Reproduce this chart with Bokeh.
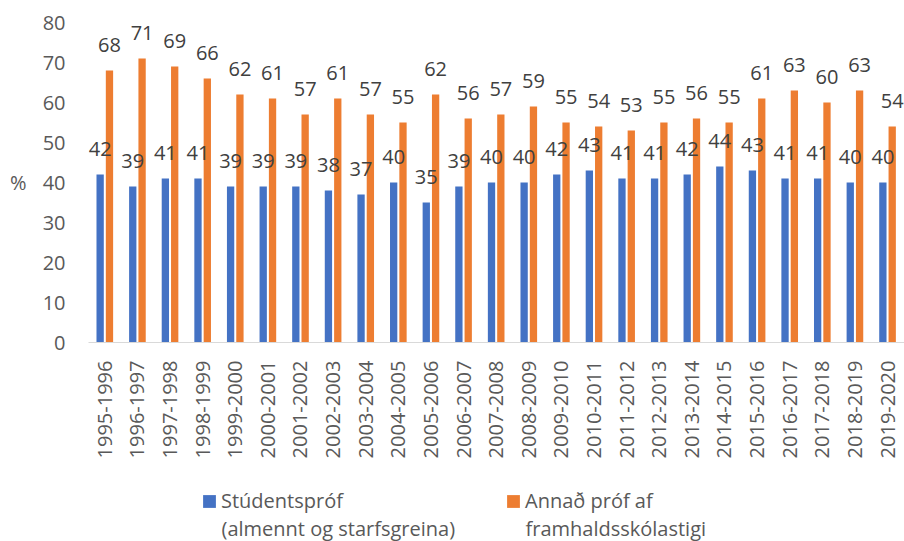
import math
from bokeh.plotting import figure
from bokeh.layouts import column
from bokeh.models import (Range1d, FixedTicker, Legend, LegendItem,
                          ColumnDataSource, Label)
from bokeh.transform import dodge
from bokeh.embed import file_html
from bokeh.resources import INLINE
from bokeh.core.properties import value

categories = ["1995-1996", "1996-1997", "1997-1998", "1998-1999", "1999-2000",
              "2000-2001", "2001-2002", "2002-2003", "2003-2004", "2004-2005",
              "2005-2006", "2006-2007", "2007-2008", "2008-2009", "2009-2010",
              "2010-2011", "2011-2012", "2012-2013", "2013-2014", "2014-2015",
              "2015-2016", "2016-2017", "2017-2018", "2018-2019", "2019-2020"]
studentsprof = [42, 39, 41, 41, 39, 39, 39, 38, 37, 40, 35, 39, 40, 40, 42,
                43, 41, 41, 42, 44, 43, 41, 41, 40, 40]
annad_prof = [68, 71, 69, 66, 62, 61, 57, 61, 57, 55, 62, 56, 57, 59, 55,
              54, 53, 55, 56, 55, 61, 63, 60, 63, 54]
y_ticks = [0, 10, 20, 30, 40, 50, 60, 70, 80]
series_line1 = ["Stúdentspróf", "Annað próf af"]
series_line2 = ["(almennt og starfsgreina)", "framhaldsskólastigi"]

BLUE = "#4472C4"
ORANGE = "#ED7D31"
FONT = "Open Sans"
FS = "20px"
GREY = "#595959"

idx = list(range(len(categories)))
src = ColumnDataSource(dict(
    x=idx, a=studentsprof, b=annad_prof,
    la=[str(v) for v in studentsprof], lb=[str(v) for v in annad_prof]))

p = figure(frame_width=816, frame_height=320, output_backend="svg",
           toolbar_location=None,
           x_range=Range1d(-0.50, 24.52), y_range=Range1d(0, 80),
           min_border_left=88, min_border_right=0, min_border_top=22,
           min_border_bottom=128)
p.outline_line_color = None
p.background_fill_color = "white"
p.border_fill_color = "white"
p.xgrid.visible = False
p.ygrid.visible = False

off = 0.143
bw = 0.224
r1 = p.vbar(x=dodge("x", -off, range=p.x_range), top="a", width=bw, source=src,
            fill_color=BLUE, line_color=None)
r2 = p.vbar(x=dodge("x", off, range=p.x_range), top="b", width=bw, source=src,
            fill_color=ORANGE, line_color=None)

for col, lab, o in (("a", "la", -off), ("b", "lb", off)):
    p.text(x=dodge("x", o, range=p.x_range), y=col, text=lab, source=src,
           text_align="center", text_baseline="middle", y_offset=-26,
           text_font=value(FONT), text_font_size=FS, text_color="#404040")

# axes
p.xaxis.ticker = FixedTicker(ticks=idx)
p.xaxis.major_label_overrides = {i: c for i, c in zip(idx, categories)}
p.xaxis.major_label_orientation = math.pi / 2
p.xaxis.major_tick_in = 0
p.xaxis.major_tick_out = 0
p.xaxis.minor_tick_in = 0
p.xaxis.minor_tick_out = 0
p.xaxis.axis_line_color = "#D9D9D9"
p.xaxis.major_label_standoff = 18
p.xaxis.major_label_text_font = FONT
p.xaxis.major_label_text_font_size = FS
p.xaxis.major_label_text_color = GREY

p.yaxis.ticker = FixedTicker(ticks=y_ticks)
p.yaxis.axis_line_color = None
p.yaxis.major_tick_in = 0
p.yaxis.major_tick_out = 0
p.yaxis.minor_tick_in = 0
p.yaxis.minor_tick_out = 0
p.yaxis.major_label_standoff = 23
p.yaxis.major_label_text_font = FONT
p.yaxis.major_label_text_font_size = FS
p.yaxis.major_label_text_color = GREY
p.yaxis.axis_label = "%"
p.yaxis.axis_label_orientation = "horizontal"
p.yaxis.axis_label_standoff = 13
p.yaxis.axis_label_text_font = FONT
p.yaxis.axis_label_text_font_size = FS
p.yaxis.axis_label_text_font_style = "normal"
p.yaxis.axis_label_text_color = GREY

# legend strip below the chart (its frame is aligned with the chart frame)
leg = figure(width=904, height=71, output_backend="svg", toolbar_location=None,
             x_axis_type=None, y_axis_type=None, min_border=0,
             x_range=Range1d(0, 1), y_range=Range1d(0, 1))
leg.outline_line_color = None
leg.xgrid.visible = False
leg.ygrid.visible = False
d1 = leg.vbar(x="x", top="a", width=bw, source=src, fill_color=BLUE,
              line_color=None, visible=False)
d2 = leg.vbar(x="x", top="b", width=bw, source=src, fill_color=ORANGE,
              line_color=None, visible=False)

legend_x = [113, 417]
for r, l1, l2, lx in zip((d1, d2), series_line1, series_line2, legend_x):
    lg = Legend(items=[LegendItem(label=l1, renderers=[r])],
                location=(lx, 27), orientation="horizontal",
                border_line_color=None, background_fill_alpha=0,
                label_text_font=FONT, label_text_font_size=FS,
                label_text_color=GREY, glyph_width=16, glyph_height=16,
                label_standoff=4, margin=0, padding=0, label_height=20)
    leg.add_layout(lg, "center")
    leg.add_layout(Label(x=lx + 20, y=13, x_units="screen", y_units="screen",
                         text=l2, text_font=FONT, text_font_size=FS,
                         text_color=GREY, text_baseline="middle"))

open("out.html", "w").write(file_html(column(p, leg, spacing=0), INLINE))
